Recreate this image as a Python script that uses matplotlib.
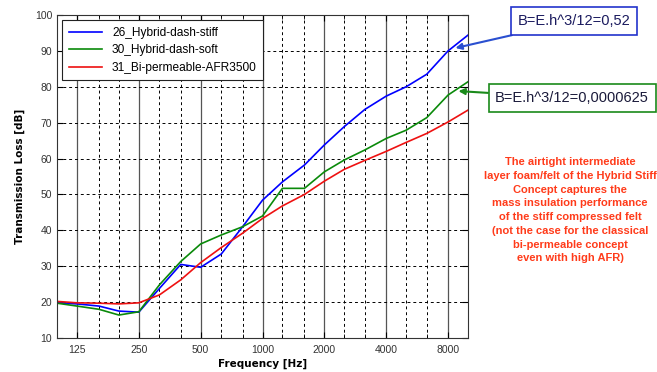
import matplotlib
matplotlib.use('Agg')
import matplotlib.pyplot as plt
from matplotlib.ticker import FixedLocator, NullFormatter

# third-octave band centre frequencies [Hz]
freq = [100, 125, 160, 200, 250, 315, 400, 500, 630, 800, 1000,
        1250, 1600, 2000, 2500, 3150, 4000, 5000, 6300, 8000, 10000]

# transmission loss [dB]
tl_stiff = [19.8, 19.5, 18.9, 17.5, 17.2, 23.8, 30.5, 29.7, 33.4, 41.0, 48.4,
            53.5, 58.2, 63.8, 68.9, 73.7, 77.4, 80.0, 83.5, 90.0, 94.4]
tl_soft = [19.7, 18.9, 18.0, 16.4, 17.3, 24.8, 31.3, 36.2, 38.7, 41.0, 44.0,
           51.7, 51.7, 56.3, 59.6, 62.4, 65.6, 67.9, 71.4, 77.7, 81.4]
tl_biperm = [20.2, 19.8, 19.7, 19.5, 19.8, 22.0, 26.2, 31.0, 35.2, 39.2, 43.3,
             46.8, 50.0, 53.7, 57.0, 59.5, 62.0, 64.5, 67.0, 70.2, 73.5]

names = ['26_Hybrid-dash-stiff', '30_Hybrid-dash-soft', '31_Bi-permeable-AFR3500']
octaves = [125, 250, 500, 1000, 2000, 4000, 8000]
yticks = [10, 20, 30, 40, 50, 60, 70, 80, 90, 100]

note = ("The airtight intermediate\n"
        "layer foam/felt of the Hybrid Stiff\n"
        "Concept captures the\n"
        "mass insulation performance\n"
        "of the stiff compressed felt\n"
        "(not the case for the classical\n"
        "bi-permeable concept\n"
        "even with high AFR)")

fig = plt.figure(figsize=(6.57, 3.72), dpi=100)
ax = fig.add_axes([57/657, 34/372, 411/657, 323/372])

ax.plot(freq, tl_stiff, color='#0000ff', lw=1.2, label=names[0])
ax.plot(freq, tl_soft, color='#0a8a0a', lw=1.2, label=names[1])
ax.plot(freq, tl_biperm, color='#ee1111', lw=1.2, label=names[2])

ax.set_xscale('log')
ax.set_xlim(100, 10000)
ax.set_ylim(10, 100)
ax.xaxis.set_major_locator(FixedLocator(octaves))
ax.xaxis.set_minor_locator(FixedLocator([f for f in freq if f not in octaves]))
ax.xaxis.set_minor_formatter(NullFormatter())
ax.set_xticklabels([str(o) for o in octaves])
ax.set_yticks(yticks)
ax.tick_params(which='both', direction='in', top=True, right=True,
               labelsize=7.5, labelcolor='#333333', length=4)
ax.tick_params(which='minor', length=3)
ax.tick_params(axis='x', pad=5)
for lab in ax.get_xticklabels() + ax.get_yticklabels():
    lab.set_family('Liberation Sans')

ax.grid(True, which='major', axis='x', color='#555555', lw=0.9, ls='-')
ax.grid(True, which='minor', axis='x', color='black', lw=0.7, ls=(0, (3, 3)))
ax.grid(True, which='major', axis='y', color='black', lw=0.7, ls=(0, (3, 3)))
ax.set_axisbelow(True)
for s in ax.spines.values():
    s.set_color('#333333')

ax.set_xlabel('Frequency [Hz]', fontsize=7.5, fontweight='bold', labelpad=3)
ax.set_ylabel('Transmission Loss [dB]', fontsize=7.5, fontweight='bold', labelpad=7)

leg = ax.legend(loc='upper left', prop={'family': 'Liberation Sans', 'size': 8.6},
                fancybox=False, edgecolor='#222222', framealpha=1,
                handlelength=2.8, borderaxespad=0.45, borderpad=0.55,
                labelspacing=0.45)
leg.get_frame().set_linewidth(0.8)

ax.annotate('B=E.h^3/12=0,52', xy=(8690, 90.8), xycoords='data',
            xytext=(574, 351), textcoords='figure pixels',
            ha='center', va='center', fontsize=10.5, family='Liberation Sans',
            color='#1a1a5e', annotation_clip=False,
            bbox=dict(boxstyle='square,pad=0.45', fc='white', ec='#2233cc', lw=1.2),
            arrowprops=dict(arrowstyle='-|>', color='#2a4fd0', lw=1.5,
                            mutation_scale=9, shrinkA=0, shrinkB=0))
ax.annotate('B=E.h^3/12=0,0000625', xy=(8985, 78.8), xycoords='data',
            xytext=(572, 274), textcoords='figure pixels',
            ha='center', va='center', fontsize=10.5, family='Liberation Sans',
            color='#1a1a3a', annotation_clip=False,
            bbox=dict(boxstyle='square,pad=0.45', fc='white', ec='#1a8a1a', lw=1.2),
            arrowprops=dict(arrowstyle='-|>', color='#1a8a1a', lw=1.5,
                            mutation_scale=9, shrinkA=0, shrinkB=0))

fig.text(570/657, 1 - 157/372, note, ha='center', va='top', multialignment='center',
         fontsize=8, fontweight='bold', family='Liberation Sans',
         color='#ff3b1a', linespacing=1.47)

fig.savefig('out.png', dpi=100)
